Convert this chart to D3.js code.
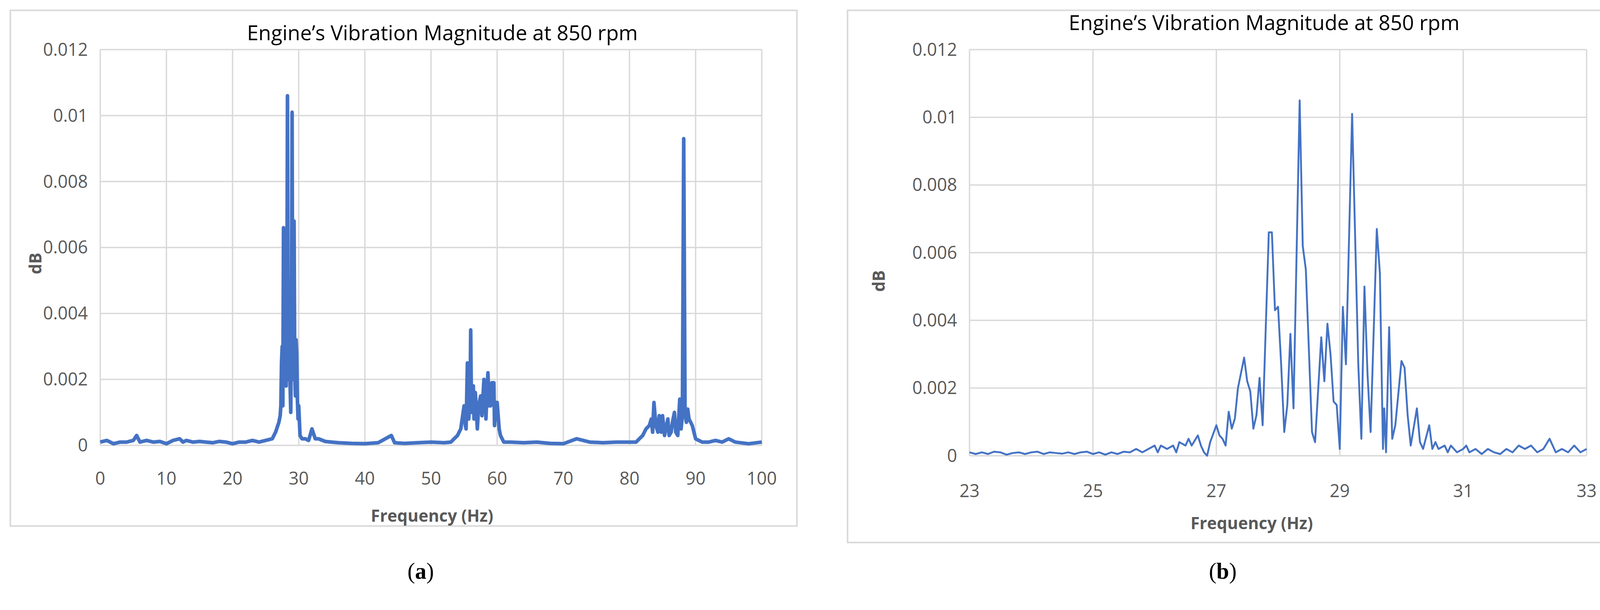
<!DOCTYPE html>
<html><head><meta charset="utf-8">
<script src="https://cdn.jsdelivr.net/npm/d3@7"></script>
<style>body{margin:0;background:#fff}</style></head>
<body><div id="chart"></div>
<script>
// panel (a): full spectrum 0-100 Hz
const freqA = [0,1,2,3,4,5,5.5,6,7,8,9,10,11,12,12.5,13,14,15,16,17,18,19,20,21,22,23,24,25,26,26.5,27,27.2,27.3,27.4,27.5,27.6,27.7,27.8,27.9,28,28.1,28.2,28.3,28.4,28.5,28.6,28.7,28.8,28.9,29,29.1,29.2,29.3,29.4,29.5,29.6,29.7,29.8,29.9,30,30.2,30.5,31,31.5,32,32.5,33,34,35,36,38,40,42,44,44.5,46,48,50,52,53,53.5,54,54.5,55,55.2,55.3,55.5,55.6,55.7,55.9,56,56.1,56.2,56.4,56.5,56.7,57,57.2,57.5,57.7,58,58.2,58.3,58.5,58.6,58.8,59,59.2,59.3,59.5,59.6,59.8,60,60.3,60.5,61,62,64,66,68,70,72,74,76,78,80,81,81.5,82,82.5,83,83.3,83.5,83.7,84,84.3,84.5,84.8,85,85.3,85.5,85.8,86,86.3,86.5,86.8,87,87.3,87.6,87.8,88,88.2,88.4,88.6,88.8,89,89.5,90,91,92,93,94,95,96,98,100];
const magA = [.0001,.00015,.00005,.0001,.0001,.00015,.0003,.0001,.00015,.0001,.00012,.00005,.00015,.0002,.0001,.00015,.0001,.00012,.0001,.00008,.00012,.0001,.00005,.0001,.0001,.00015,.0001,.00015,.0002,.0004,.0007,.0009,.0012,.0025,.003,.0012,.0066,.002,.0035,.0045,.0018,.0032,.0106,.002,.0042,.0045,.0018,.001,.004,.0101,.002,.0038,.0068,.0022,.0015,.0032,.0028,.0014,.0008,.0012,.0003,.0002,.0002,.00015,.0005,.0002,.0002,.00012,.0001,.00008,.00006,.00005,.00008,.0003,.00008,.00006,.00008,.0001,.00008,.0001,.0002,.0003,.0005,.0012,.0006,.0005,.0025,.0012,.0008,.0014,.0035,.0014,.001,.0018,.0008,.0016,.0005,.0012,.0015,.0009,.002,.0014,.0008,.0018,.0022,.0012,.0012,.0019,.0014,.0019,.0006,.0013,.0013,.0005,.0003,.0001,.0001,.00008,.0001,.00006,.00005,.0002,.0001,.00008,.0001,.0001,.0001,.0002,.0003,.0005,.0006,.0008,.0004,.0013,.0006,.0004,.0009,.0004,.0009,.0003,.0005,.0008,.0003,.0004,.0007,.001,.0004,.0003,.0014,.0005,.0009,.0093,.001,.0007,.0011,.0008,.0006,.0002,.0001,.0001,.00015,.0001,.0002,.0001,.00005,.0001,.0002];
// panel (b): zoom 23-33 Hz
const freqB = [23,23.1,23.2,23.3,23.4,23.5,23.6,23.7,23.8,23.9,24,24.1,24.2,24.3,24.4,24.5,24.6,24.7,24.8,24.9,25,25.1,25.2,25.3,25.4,25.5,25.6,25.7,25.8,25.9,26,26.05,26.1,26.2,26.3,26.35,26.4,26.5,26.55,26.6,26.7,26.75,26.8,26.85,26.9,27,27.05,27.1,27.15,27.2,27.25,27.3,27.35,27.45,27.5,27.55,27.6,27.65,27.7,27.75,27.85,27.9,27.95,28,28.05,28.1,28.15,28.2,28.25,28.35,28.4,28.45,28.55,28.6,28.7,28.75,28.8,28.85,28.9,28.95,29,29.05,29.1,29.2,29.3,29.35,29.4,29.45,29.5,29.6,29.65,29.7,29.72,29.75,29.8,29.85,29.9,30,30.05,30.1,30.15,30.25,30.3,30.35,30.45,30.5,30.55,30.6,30.7,30.75,30.8,30.9,31,31.05,31.1,31.2,31.3,31.4,31.5,31.6,31.7,31.8,31.9,32,32.1,32.2,32.3,32.4,32.5,32.6,32.7,32.8,32.9,33];
const magB = [.0001,.00005,.0001,.00005,.00012,.0001,.00003,.00008,.0001,.00005,.0001,.00012,.00005,.0001,.00008,.00006,.0001,.00005,.0001,.00012,.00005,.0001,.00003,.0001,.00005,.00012,.0001,.0002,.0001,.0002,.0003,.0001,.0003,.0002,.0003,.0001,.0004,.0003,.0005,.0003,.0006,.0003,.0001,0,.0004,.0009,.0006,.0005,.0003,.0013,.0008,.0011,.002,.0029,.0022,.0019,.0008,.0012,.0023,.0009,.0066,.0066,.0043,.0044,.0027,.0007,.0015,.0036,.0014,.0105,.0062,.0055,.0007,.0004,.0035,.0022,.0039,.003,.0016,.0015,.0002,.0044,.0027,.0101,.0027,.0005,.005,.0024,.0007,.0067,.0054,.0002,.0014,.0001,.0038,.0005,.0009,.0028,.0026,.0012,.0003,.0014,.0004,.0002,.0009,.0002,.0004,.0002,.0003,.0001,.0003,.0001,.0002,.0003,.0001,.0002,.00005,.0002,.0001,.00005,.0002,.0001,.0003,.0002,.0003,.0001,.0002,.0005,.0001,.0002,.0001,.0003,.0001,.0002];
const yTicks = [0,0.002,0.004,0.006,0.008,0.01,0.012];
const xTicksA = [0,10,20,30,40,50,60,70,80,90,100];
const xTicksB = [23,25,27,29,31,33];
const title = 'Engine\u2019s Vibration Magnitude at 850 rpm';

const svg = d3.select('#chart').append('svg')
  .attr('width', 4149).attr('height', 1562)
  .attr('viewBox', '0 0 1568 590.3');

const tickFont = '"Open Sans", "Liberation Sans", sans-serif';
const labFont = '"Open Sans", "Noto Sans", sans-serif';

const drawPanel = (cfg) => {
  const { frame, plot, xs, ys, xTicks, strokeW, caption } = cfg;
  svg.append('rect')
    .attr('x', frame[0]).attr('y', frame[1])
    .attr('width', frame[2] - frame[0]).attr('height', frame[3] - frame[1])
    .attr('fill', '#fff').attr('stroke', '#d9d9d9').attr('stroke-width', 1.5);

  const x = d3.scaleLinear().domain([xTicks[0], xTicks[xTicks.length - 1]]).range([plot.left, plot.right]);
  const y = d3.scaleLinear().domain([0, 0.012]).range([plot.bottom, plot.top]);

  // gridlines
  const g = svg.append('g');
  g.selectAll('line.h').data(yTicks).enter().append('line')
    .attr('x1', plot.left).attr('x2', plot.right)
    .attr('y1', (d) => y(d)).attr('y2', (d) => y(d))
    .attr('stroke', '#d9d9d9').attr('stroke-width', 1.3);
  g.selectAll('line.v').data(xTicks).enter().append('line')
    .attr('y1', plot.top).attr('y2', plot.bottom)
    .attr('x1', (d) => x(d)).attr('x2', (d) => x(d))
    .attr('stroke', '#d9d9d9').attr('stroke-width', 1.3);

  // tick labels
  g.selectAll('text.y').data(yTicks).enter().append('text')
    .attr('x', plot.left - 12).attr('y', (d) => y(d)).attr('dy', '0.35em')
    .attr('text-anchor', 'end').attr('fill', '#595959')
    .style('font-family', tickFont).style('font-size', '17px')
    .text((d) => d);
  g.selectAll('text.x').data(xTicks).enter().append('text')
    .attr('x', (d) => x(d)).attr('y', cfg.xTickY)
    .attr('text-anchor', 'middle').attr('fill', '#595959')
    .style('font-family', tickFont).style('font-size', '17px')
    .text((d) => d);

  // line
  const pts = xs.map((f, i) => [f, ys[i]]);
  svg.append('path').datum(pts)
    .attr('fill', 'none').attr('stroke', '#4472c4')
    .attr('stroke-width', strokeW).attr('stroke-linejoin', 'round')
    .attr('d', d3.line().x((d) => x(d[0])).y((d) => y(d[1])));

  svg.append('text').attr('x', cfg.titleX).attr('y', cfg.titleY)
    .attr('text-anchor', 'middle').attr('fill', '#000')
    .style('font-family', labFont).style('font-size', '20px').text(title);
  svg.append('text').attr('x', cfg.xLabX).attr('y', cfg.xLabY)
    .attr('text-anchor', 'middle').attr('fill', '#595959').attr('font-weight', 'bold')
    .style('font-family', tickFont).style('font-size', '16px').text('Frequency (Hz)');
  svg.append('text')
    .attr('transform', `translate(${cfg.yLabX},${cfg.yLabY}) rotate(-90)`)
    .attr('text-anchor', 'middle').attr('fill', '#595959').attr('font-weight', 'bold')
    .style('font-family', tickFont).style('font-size', '16px').text('dB');

  const cap = svg.append('text').attr('x', caption[0]).attr('y', caption[1])
    .attr('text-anchor', 'middle')
    .style('font-family', '"Liberation Serif", serif').style('font-size', '22px');
  cap.append('tspan').text('(');
  cap.append('tspan').attr('font-weight', 'bold').text(caption[2]);
  cap.append('tspan').text(')');
};

drawPanel({
  frame: [10, 10, 771, 509], plot: { left: 97, right: 737, top: 48, bottom: 431 },
  xs: freqA, ys: magA, xTicks: xTicksA, strokeW: 3.5,
  xTickY: 469, titleX: 428, titleY: 39, xLabX: 418, xLabY: 505, yLabX: 40, yLabY: 255,
  caption: [407, 560, 'a']
});
drawPanel({
  frame: [820, 10, 1558, 525], plot: { left: 938, right: 1535, top: 48, bottom: 441 },
  xs: freqB, ys: magB, xTicks: xTicksB, strokeW: 1.8,
  xTickY: 481, titleX: 1223, titleY: 29, xLabX: 1211, xLabY: 512, yLabX: 856, yLabY: 272,
  caption: [1183, 560, 'b']
});
</script></body></html>
